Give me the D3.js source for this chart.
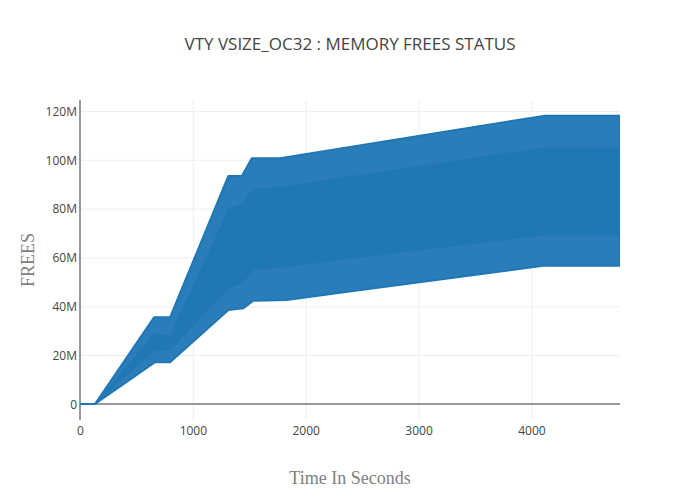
<!DOCTYPE html>
<html><head><meta charset="utf-8">
<script src="https://cdn.jsdelivr.net/npm/d3@7"></script>
<style>body{margin:0;background:#fff} svg{display:block}</style>
</head><body><div id="chart"></div>
<script>
const chartTitle = "VTY VSIZE_OC32 : MEMORY FREES STATUS";
const xTitle = "Time In Seconds";
const yTitle = "FREES";
// upper envelope of the oscillating FREES trace
const upperTime  = [0, 133, 656, 798, 1315, 1434, 1522, 1773, 4107, 4785];
const upperValue = [0, 0, 35.5e6, 35.5e6, 93.4e6, 93.4e6, 100.6e6, 100.6e6, 118e6, 118e6];
// lower envelope
const lowerTime  = [0, 133, 665, 798, 1315, 1448, 1536, 1832, 2305, 4105, 4785];
const lowerValue = [0, 0, 17.1e6, 17.1e6, 38.5e6, 39.2e6, 42.3e6, 42.6e6, 45.6e6, 56.6e6, 56.6e6];
// where the oscillation is dense enough to look solid
const coreUpperValue = [0, 0, 29e6, 28e6, 80e6, 82e6, 88e6, 89e6, 105e6, 105e6];
const coreLowerValue = [0, 0, 22e6, 22e6, 47e6, 50e6, 55e6, 56e6, 59e6, 69e6, 69e6];
const xTicks = [0, 1000, 2000, 3000, 4000];
const xTickLabels = ["0", "1000", "2000", "3000", "4000"];
const yTicks = [0, 20e6, 40e6, 60e6, 80e6, 100e6, 120e6];
const yTickLabels = ["0", "20M", "40M", "60M", "80M", "100M", "120M"];
const xDomain = [0, 4785];
const yDomain = [-6.55e6, 124.5e6];

const W = 700, H = 500, m = {l: 80, r: 80, t: 100, b: 80};
const svg = d3.select("#chart").append("svg").attr("width", W).attr("height", H);
const x = d3.scaleLinear().domain(xDomain).range([m.l, W - m.r]);
const y = d3.scaleLinear().domain(yDomain).range([H - m.b, m.t]);
const tickFont = "'Open Sans', sans-serif";

// grid
const gx = svg.append("g").attr("transform", `translate(0,${H - m.b})`)
  .call(d3.axisBottom(x).tickValues(xTicks).tickSize(-(H - m.t - m.b)).tickFormat((d, i) => xTickLabels[i]));
gx.select(".domain").remove();
gx.selectAll(".tick line").attr("stroke", "#eee").attr("stroke-width", 1);
gx.selectAll(".tick text").attr("fill", "#444").attr("font-size", 12).attr("font-family", tickFont).attr("dy", "0.71em").attr("y", 6);
gx.selectAll(".tick").filter(d => d === 0).select("line").remove();

const gy = svg.append("g").attr("transform", `translate(${m.l},0)`)
  .call(d3.axisLeft(y).tickValues(yTicks).tickSize(-(W - m.l - m.r)).tickFormat((d, i) => yTickLabels[i]));
gy.select(".domain").remove();
gy.selectAll(".tick line").attr("stroke", "#eee").attr("stroke-width", 1);
gy.selectAll(".tick text").attr("fill", "#444").attr("font-size", 12).attr("font-family", tickFont).attr("x", -3).attr("dy", "0.36em");
gy.selectAll(".tick").filter(d => d === 0).select("line").remove();

// zero lines
svg.append("line").attr("x1", x(0)).attr("x2", x(0)).attr("y1", m.t).attr("y2", H - m.b)
  .attr("stroke", "#999").attr("stroke-width", 2);
svg.append("line").attr("x1", m.l).attr("x2", W - m.r).attr("y1", y(0)).attr("y2", y(0))
  .attr("stroke", "#999").attr("stroke-width", 2);

// data envelope
const line = d3.line().x(d => x(d[0])).y(d => y(d[1]));
svg.append("clipPath").attr("id", "clip").append("rect")
  .attr("x", m.l).attr("y", m.t).attr("width", W - m.l - m.r).attr("height", H - m.t - m.b);
const outer = upperTime.map((t, i) => [t, upperValue[i]])
  .concat(lowerTime.map((t, i) => [t, lowerValue[i]]).reverse());
const core = upperTime.map((t, i) => [t, coreUpperValue[i]])
  .concat(lowerTime.map((t, i) => [t, coreLowerValue[i]]).reverse());
svg.append("path").attr("d", line(outer) + "Z").attr("clip-path", "url(#clip)")
  .attr("fill", "#2a7db8").attr("stroke", "#1f77b4").attr("stroke-width", 2).attr("stroke-linejoin", "round");
svg.append("path").attr("d", line(core) + "Z").attr("clip-path", "url(#clip)")
  .attr("fill", "#1f77b4");

// titles
svg.append("text").attr("x", W / 2).attr("y", 50).attr("text-anchor", "middle")
  .attr("font-family", tickFont).attr("font-size", 17).attr("fill", "#444").text(chartTitle);
svg.append("text").attr("x", W / 2).attr("y", 484).attr("text-anchor", "middle")
  .attr("font-family", "'Liberation Serif', serif").attr("font-size", 18).attr("fill", "#7f7f7f").text(xTitle);
svg.append("text").attr("transform", `translate(34,${(m.t + H - m.b) / 2}) rotate(-90)`).attr("text-anchor", "middle")
  .attr("font-family", "'Liberation Serif', serif").attr("font-size", 18).attr("fill", "#7f7f7f").text(yTitle);
</script></body></html>
